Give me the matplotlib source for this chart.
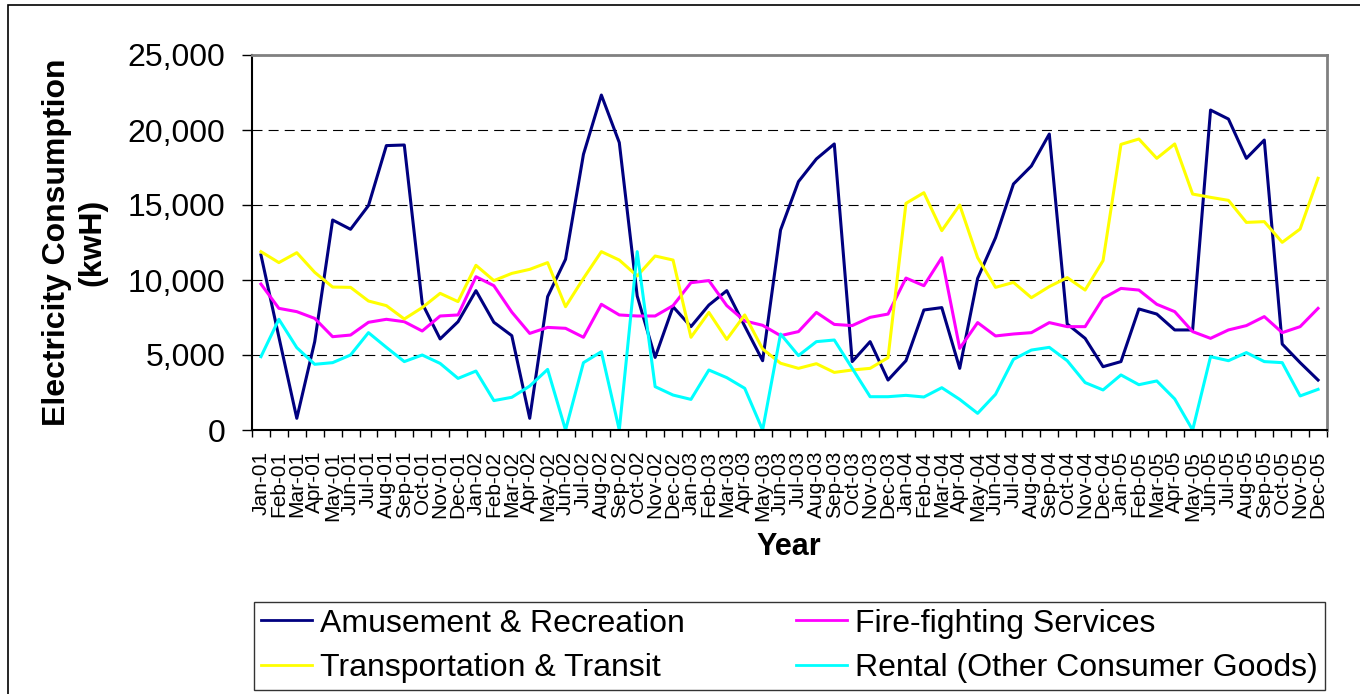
import matplotlib
matplotlib.use("Agg")
import matplotlib.pyplot as plt
import numpy as np
from matplotlib.patches import Rectangle
from matplotlib.ticker import FuncFormatter

plt.rcParams["font.family"] = ["Liberation Sans", "DejaVu Sans"]

month_names = ["Jan", "Feb", "Mar", "Apr", "May", "Jun",
               "Jul", "Aug", "Sep", "Oct", "Nov", "Dec"]
years = ["01", "02", "03", "04", "05"]
months = [f"{m}-{y}" for y in years for m in month_names]

# monthly consumption, kWh
amusement = [11670, 6200, 780, 5890, 14000, 13380, 14960, 18960, 19000, 8440, 6070, 7220,
             9290, 7180, 6290, 780, 8890, 11380, 18380, 22330, 19160, 8930, 4840, 8220,
             6890, 8330, 9290, 6930, 4620, 13330, 16560, 18070, 19070, 4560, 5890, 3330,
             4620, 8000, 8160, 4110, 10110, 12820, 16400, 17600, 19730, 7070, 6110, 4220,
             4560, 8070, 7730, 6670, 6670, 21330, 20730, 18110, 19330, 5730, 4490, 3330]
fire = [9730, 8110, 7890, 7440, 6220, 6330, 7180, 7380, 7220, 6600, 7600, 7670,
        10220, 9620, 7860, 6440, 6840, 6780, 6180, 8380, 7670, 7600, 7600, 8290,
        9820, 9960, 8290, 7270, 6980, 6290, 6560, 7840, 7040, 6960, 7510, 7730,
        10130, 9620, 11490, 5440, 7160, 6270, 6400, 6490, 7160, 6890, 6890, 8780,
        9440, 9330, 8380, 7890, 6560, 6110, 6670, 6960, 7560, 6490, 6890, 8110]
transport = [11890, 11160, 11820, 10510, 9530, 9510, 8600, 8290, 7400, 8160, 9110, 8560,
             10980, 9960, 10440, 10710, 11160, 8220, 10110, 11890, 11330, 10270, 11600, 11330,
             6180, 7840, 6040, 7670, 5400, 4450, 4110, 4420, 3840, 4000, 4110, 4820,
             15110, 15820, 13290, 15000, 11490, 9510, 9840, 8820, 9560, 10160, 9330, 11290,
             19040, 19400, 18110, 19070, 15730, 15510, 15310, 13840, 13890, 12510, 13400, 16780]
rental = [4890, 7380, 5490, 4380, 4490, 5000, 6490, 5510, 4560, 5000, 4440, 3440,
          3930, 1960, 2180, 2930, 4040, 0, 4490, 5220, 0, 11890, 2890, 2330,
          2040, 4000, 3490, 2780, 0, 6400, 4960, 5890, 6000, 4110, 2220, 2220,
          2310, 2200, 2820, 2040, 1110, 2380, 4710, 5330, 5510, 4620, 3160, 2670,
          3670, 3020, 3270, 2070, 0, 4890, 4620, 5160, 4560, 4490, 2270, 2710]

W, H = 1360, 694
fig = plt.figure(figsize=(W / 100, H / 100), dpi=100)

# outer chart border (runs off the right and bottom edges)
fig.patches.append(Rectangle((8 / W, -0.1), 1.2, (H - 5) / H + 0.1, transform=fig.transFigure,
                             fill=False, edgecolor="black", linewidth=1.2))

ax = fig.add_axes([252 / W, 1 - 430 / H, (1327 - 252) / W, (430 - 55) / H])

x = np.arange(len(months))
lw = 2.2
l_am, = ax.plot(x, amusement, color="#000080", lw=lw, label="Amusement & Recreation")
l_fi, = ax.plot(x, fire, color="#FF00FF", lw=lw, label="Fire-fighting Services")
l_tr, = ax.plot(x, transport, color="#FFFF00", lw=lw, label="Transportation & Transit")
l_re, = ax.plot(x, rental, color="#00FFFF", lw=lw, label="Rental (Other Consumer Goods)")

ax.set_ylim(0, 25000)
ax.set_yticks(range(0, 25001, 5000))
ax.yaxis.set_major_formatter(FuncFormatter(lambda v, p: f"{v:,.0f}"))
ax.tick_params(axis="y", labelsize=23, length=7, width=1, pad=12)
ax.yaxis.grid(True, color="black", linestyle=(0, (9, 5.5)), linewidth=0.8)
ax.set_axisbelow(True)

ax.set_xlim(-0.5, len(months) - 0.5)
ax.set_xticks(np.arange(-0.5, len(months), 1))
ax.set_xticks(x, minor=True)
ax.set_xticklabels(months, minor=True, rotation=90, fontsize=15)
ax.tick_params(axis="x", which="major", length=5, width=1, labelbottom=False)
ax.tick_params(axis="x", which="minor", length=0, pad=15)

for side in ["left", "bottom"]:
    ax.spines[side].set_color("black")
    ax.spines[side].set_linewidth(1.5)
for side in ["top", "right"]:
    ax.spines[side].set_color("#808080")
    ax.spines[side].set_linewidth(2)

fig.text(75 / W, 1 - 242 / H, "Electricity Consumption\n(kwH)", rotation=90,
         ha="center", va="center", fontsize=23, fontweight="bold",
         multialignment="center", linespacing=1.22)
fig.text(789 / W, 1 - 547 / H, "Year", ha="center", va="center",
         fontsize=22, fontweight="bold")

leg = fig.legend(handles=[l_am, l_tr, l_fi, l_re], ncol=2, loc="lower left",
                 bbox_to_anchor=(254 / W, 4 / H, (1325 - 254) / W, 93 / H),
                 mode="expand", fontsize=23, frameon=True, fancybox=False,
                 edgecolor="black", handlelength=1.6, handletextpad=0.25,
                 borderpad=0.22, labelspacing=0.45, borderaxespad=0)
leg.get_frame().set_linewidth(1)
for line in leg.get_lines():
    line.set_linewidth(2)

fig.savefig("out.png", dpi=100)
